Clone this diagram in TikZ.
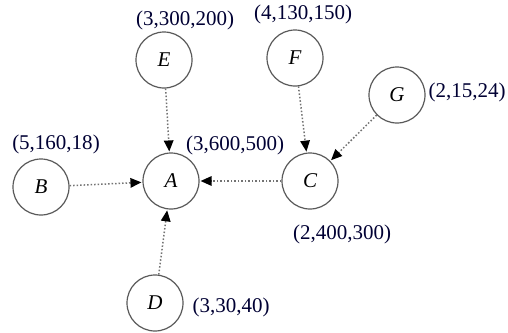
\documentclass[tikz,border=0pt]{standalone}
\usepackage{fontspec}
\setmainfont{Liberation Serif}
\usetikzlibrary{arrows.meta}
\begin{document}
\begin{tikzpicture}[x=1pt,y=-1pt,
  vertex/.style={circle,draw=black!65,line width=1.2pt,minimum size=56pt,inner sep=0pt,
    font=\fontsize{21}{24}\selectfont\itshape},
  tag/.style={font=\fontsize{21}{24}\selectfont,text=black!80!blue,inner sep=0pt},
  link/.style={draw=black!55,line width=1.5pt,dotted,shorten >=1pt,
    -{Triangle[length=11pt,width=9.5pt,fill=black,color=black]}}]
  \useasboundingbox (0,0) rectangle (508,332);
  % vertices
  \node[vertex] (A) at (171,181) {A};
  \node[vertex] (B) at (41,187) {B};
  \node[vertex] (C) at (310,181) {C};
  \node[vertex] (D) at (155,303) {D};
  \node[vertex] (E) at (164,60) {E};
  \node[vertex] (F) at (295,58) {F};
  \node[vertex] (G) at (397,95) {G};
  % weight tuples
  \node[tag] (tA) at (235,145) {(3,600,500)};
  \node[tag] (tB) at (56,144) {(5,160,18)};
  \node[tag] (tC) at (342,234) {(2,400,300)};
  \node[tag] (tD) at (231,307) {(3,30,40)};
  \node[tag] (tE) at (185,20) {(3,300,200)};
  \node[tag] (tF) at (303,14) {(4,130,150)};
  \node[tag] (tG) at (467,92) {(2,15,24)};
  % dependencies
  \draw[link] (E) -- (A);
  \draw[link] (B) -- (A);
  \draw[link] (C) -- (A);
  \draw[link] (D) -- (A);
  \draw[link] (F) -- (C);
  \draw[link] (G) -- (C);
\end{tikzpicture}
\end{document}
